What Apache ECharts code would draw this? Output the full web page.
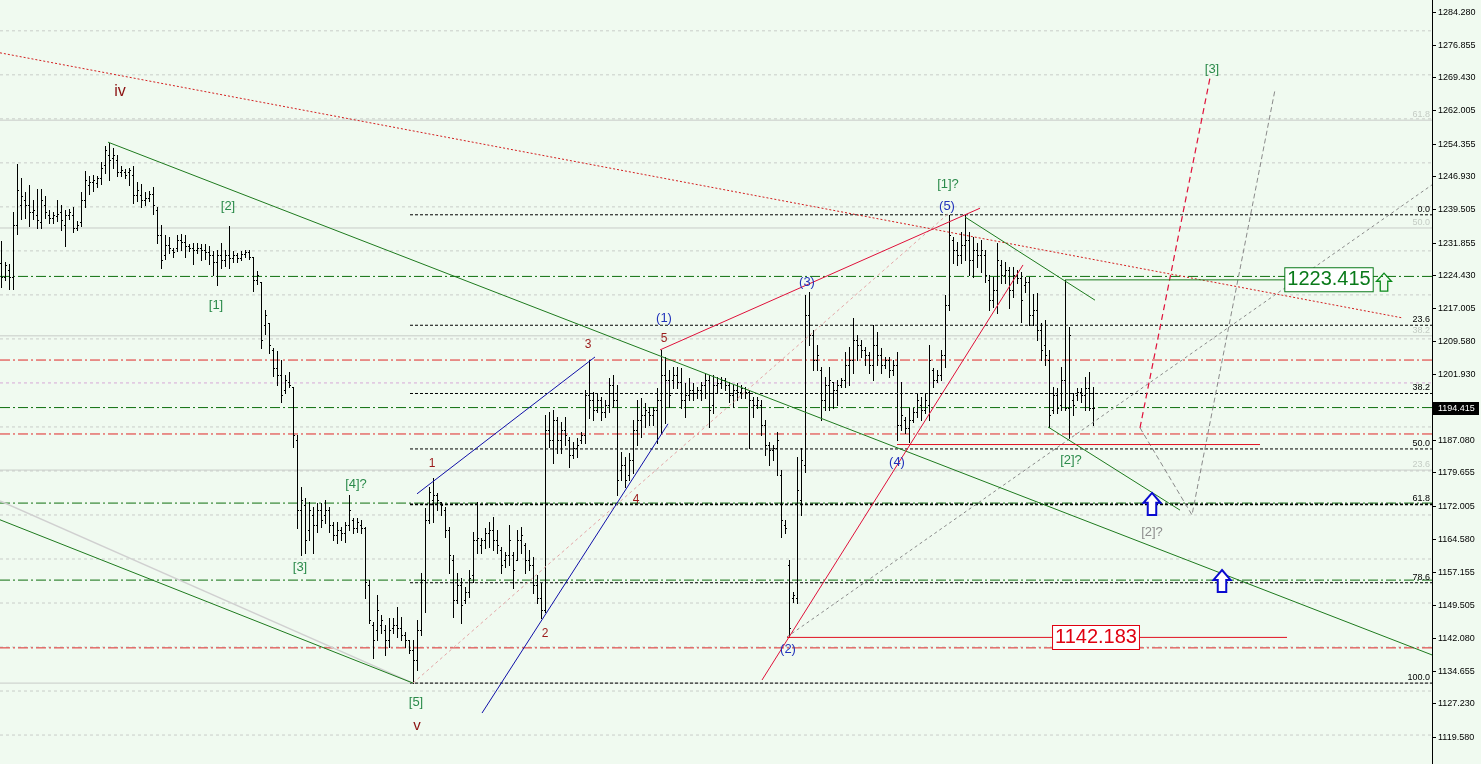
<!DOCTYPE html>
<html><head><meta charset="utf-8">
<script src="https://cdn.jsdelivr.net/npm/echarts/dist/echarts.min.js"></script>
<style>html,body{margin:0;padding:0;background:#F0FAF0;}#c{width:1481px;height:764px;}</style>
</head><body><div id="c"></div><script>
// ---------- DATA ----------
// OHLC bars: [open, high, low, close]
const bars = [
[1227.2,1232.3,1221.8,1224.1],[1224.1,1227.4,1223.4,1226.8],[1225.7,1227.0,1221.4,1224.1],[1224.1,1238.8,1221.4,1235.9],
[1235.9,1249.7,1233.8,1243.8],[1240.5,1246.6,1237.3,1242.4],[1241.6,1243.3,1237.5,1240.5],[1240.5,1245.0,1235.6,1238.8],
[1238.8,1241.6,1237.3,1239.3],[1238.2,1244.1,1235.2,1237.0],[1236.5,1244.1,1235.2,1241.6],[1240.5,1242.4,1237.5,1238.8],
[1238.2,1239.3,1236.3,1237.5],[1237.5,1238.8,1236.3,1238.2],[1237.9,1241.6,1236.8,1238.4],[1238.8,1240.5,1234.7,1237.0],
[1235.9,1239.3,1231.1,1238.2],[1238.2,1239.6,1237.3,1238.8],[1238.2,1240.0,1234.2,1235.2],[1235.2,1236.8,1234.7,1235.9],
[1236.5,1243.3,1235.6,1241.6],[1241.6,1248.2,1240.0,1246.1],[1245.0,1247.0,1242.9,1245.6],[1245.6,1247.3,1243.6,1246.1],
[1245.4,1247.0,1244.5,1246.6],[1246.6,1250.1,1245.2,1248.8],[1249.5,1253.8,1247.7,1252.9],[1251.8,1254.5,1246.1,1250.6],
[1251.1,1253.4,1248.8,1251.8],[1250.6,1251.8,1247.0,1247.9],[1247.9,1249.2,1247.0,1248.4],[1247.9,1248.6,1246.6,1247.3],
[1247.9,1248.8,1245.0,1248.4],[1247.3,1249.2,1240.9,1242.7],[1242.7,1245.6,1241.4,1243.8],[1242.7,1245.2,1240.0,1241.6],
[1241.6,1243.3,1240.5,1242.0],[1242.0,1243.6,1241.4,1242.9],[1242.9,1244.5,1238.4,1240.5],[1239.3,1240.0,1231.8,1233.6],
[1233.6,1235.9,1226.1,1227.9],[1229.1,1233.6,1228.2,1231.4],[1231.4,1233.1,1229.5,1230.7],[1230.2,1230.7,1228.6,1229.7],
[1230.7,1233.6,1230.0,1232.5],[1232.5,1233.8,1230.2,1232.0],[1232.0,1233.6,1228.6,1231.1],[1231.1,1231.6,1230.0,1230.7],
[1230.7,1231.8,1227.0,1230.2],[1230.2,1231.8,1229.5,1230.7],[1230.7,1231.6,1227.9,1230.2],[1230.2,1231.6,1228.2,1229.7],
[1229.7,1231.1,1227.0,1229.1],[1229.1,1230.0,1224.6,1227.4],[1227.4,1230.2,1222.3,1229.1],[1229.1,1231.8,1226.1,1227.9],
[1227.9,1230.2,1226.5,1229.1],[1229.1,1235.6,1226.1,1228.4],[1228.4,1230.0,1227.4,1229.1],[1229.1,1229.5,1227.4,1228.4],
[1228.4,1230.0,1227.9,1229.3],[1229.3,1230.2,1228.6,1229.7],[1229.7,1230.2,1228.2,1228.6],[1228.6,1228.6,1220.9,1223.4],
[1223.4,1225.5,1222.5,1224.6],[1222.9,1222.9,1208.0,1209.8],[1213.2,1216.6,1211.1,1215.5],[1213.6,1213.6,1206.8,1208.7],
[1207.5,1208.0,1201.5,1203.4],[1203.4,1207.3,1199.6,1201.8],[1201.8,1205.2,1195.6,1197.3],[1198.4,1201.8,1197.7,1200.7],
[1200.2,1202.4,1199.1,1199.6],[1199.1,1199.1,1185.4,1188.2],[1187.0,1188.2,1167.1,1171.1],[1171.1,1176.3,1160.9,1173.4],
[1172.3,1173.9,1161.3,1164.3],[1166.6,1172.9,1164.3,1171.1],[1170.0,1171.8,1161.3,1167.8],[1167.8,1172.7,1166.1,1171.1],
[1171.1,1172.7,1167.3,1168.9],[1170.0,1173.4,1168.2,1171.1],[1171.1,1171.8,1166.1,1167.8],[1167.8,1168.4,1164.3,1165.5],
[1165.5,1168.4,1163.6,1166.6],[1166.6,1167.3,1164.3,1165.9],[1165.9,1168.4,1163.8,1167.8],[1167.8,1174.6,1166.6,1171.1],
[1168.9,1169.3,1165.9,1167.1],[1167.1,1169.3,1166.1,1168.4],[1167.8,1168.9,1165.9,1167.1],[1167.1,1167.3,1151.1,1154.7],
[1154.1,1155.2,1145.4,1146.1],[1145.0,1145.6,1137.5,1141.6],[1143.9,1151.8,1141.6,1148.4],[1145.0,1147.3,1143.2,1146.1],
[1143.9,1145.0,1138.2,1141.6],[1141.6,1146.6,1140.0,1143.9],[1144.3,1146.6,1143.2,1145.0],[1145.0,1149.1,1142.3,1144.3],
[1144.3,1146.8,1141.6,1142.8],[1142.8,1143.4,1140.0,1141.6],[1141.6,1141.6,1138.6,1139.3],[1139.3,1141.6,1131.8,1137.0],
[1137.0,1146.1,1134.8,1143.9],[1143.9,1156.8,1142.8,1155.2],[1155.2,1171.6,1147.9,1168.9],[1168.9,1176.3,1168.2,1175.2],
[1173.4,1178.4,1168.4,1174.6],[1174.6,1175.0,1171.1,1173.4],[1172.9,1172.9,1170.0,1172.3],[1171.1,1171.8,1165.0,1166.6],
[1166.6,1167.3,1156.8,1160.9],[1159.8,1160.9,1146.8,1150.7],[1150.7,1156.8,1150.0,1154.1],[1154.1,1155.7,1145.4,1149.6],
[1150.7,1153.6,1150.0,1152.4],[1152.4,1157.5,1151.3,1155.7],[1156.4,1166.1,1154.7,1164.3],[1164.3,1172.9,1161.3,1164.8],
[1163.2,1164.8,1161.3,1164.3],[1164.3,1167.1,1162.5,1165.9],[1165.9,1168.4,1162.7,1166.6],[1166.6,1169.5,1162.0,1164.3],
[1164.3,1166.6,1161.3,1163.2],[1162.0,1162.7,1156.8,1158.7],[1159.8,1161.6,1158.2,1160.9],[1160.9,1167.8,1158.7,1164.3],
[1160.9,1161.6,1153.4,1157.5],[1159.8,1166.6,1159.8,1164.3],[1164.3,1167.3,1161.3,1165.5],[1163.2,1163.6,1156.8,1159.8],
[1159.8,1162.0,1157.5,1158.7],[1158.7,1160.4,1152.2,1154.1],[1154.1,1156.4,1150.0,1151.1],[1151.1,1154.5,1146.6,1148.4],
[1148.4,1192.7,1147.9,1189.3],[1189.3,1193.3,1185.4,1187.0],[1187.0,1193.8,1181.8,1191.6],[1191.6,1192.2,1184.1,1187.0],
[1187.0,1191.1,1184.1,1189.3],[1189.3,1192.2,1185.9,1188.2],[1187.0,1187.7,1180.9,1183.7],[1183.7,1186.5,1183.0,1185.2],
[1185.2,1187.5,1183.2,1185.9],[1187.0,1188.8,1186.3,1188.2],[1188.2,1198.4,1186.3,1197.3],[1197.3,1205.2,1192.0,1196.1],
[1196.1,1197.9,1191.6,1193.8],[1193.8,1197.7,1193.3,1196.1],[1196.1,1196.8,1191.6,1193.3],[1193.3,1196.1,1192.2,1195.0],
[1195.0,1201.1,1193.3,1199.6],[1199.6,1201.8,1194.5,1196.1],[1196.1,1199.6,1174.6,1177.9],[1180.2,1184.3,1177.9,1181.4],
[1181.4,1183.2,1176.3,1177.9],[1179.1,1184.1,1177.9,1182.5],[1182.5,1191.6,1179.5,1189.3],[1189.3,1196.1,1185.9,1191.6],
[1191.6,1196.6,1187.7,1192.7],[1192.7,1195.5,1190.0,1193.8],[1193.3,1194.5,1190.5,1192.7],[1192.7,1194.5,1190.5,1193.8],
[1193.8,1198.8,1186.3,1196.1],[1196.1,1207.5,1188.6,1201.8],[1201.8,1205.9,1190.9,1200.7],[1200.7,1202.9,1194.5,1197.3],
[1200.7,1203.6,1198.8,1201.8],[1201.8,1203.6,1198.8,1200.2],[1200.2,1203.4,1194.3,1196.1],[1196.1,1200.0,1192.2,1197.3],
[1197.3,1201.1,1196.1,1198.4],[1198.4,1200.0,1196.1,1197.7],[1197.7,1199.1,1196.6,1198.4],[1198.4,1200.2,1196.1,1199.6],
[1199.6,1202.2,1196.6,1200.7],[1200.7,1201.8,1190.0,1193.8],[1195.0,1201.8,1193.1,1199.6],[1199.6,1201.3,1197.9,1200.0],
[1200.0,1201.3,1198.8,1200.7],[1200.7,1201.1,1198.4,1199.6],[1199.6,1200.2,1195.6,1197.3],[1197.3,1199.6,1194.5,1198.4],
[1198.4,1200.0,1196.1,1197.9],[1197.9,1199.6,1196.6,1198.8],[1198.8,1199.1,1196.6,1197.9],[1197.9,1198.4,1185.2,1196.1],
[1196.1,1196.8,1192.2,1195.0],[1195.0,1196.8,1194.3,1196.1],[1195.0,1196.1,1188.2,1190.5],[1190.5,1191.6,1183.7,1185.9],
[1185.9,1186.5,1181.4,1184.8],[1184.8,1185.9,1182.5,1185.2],[1185.2,1188.8,1179.1,1187.0],[1179.1,1180.2,1165.0,1168.9],
[1167.8,1168.9,1165.9,1167.1],[1158.7,1159.8,1142.2,1144.3],[1151.1,1152.4,1150.2,1151.8],[1151.1,1183.2,1150.0,1175.7],
[1173.4,1185.2,1170.0,1182.5],[1181.4,1220.0,1179.7,1215.5],[1215.5,1220.6,1208.7,1210.9],[1210.9,1212.0,1202.9,1205.2],
[1205.2,1208.7,1202.9,1206.4],[1202.9,1203.6,1191.6,1196.1],[1196.1,1201.3,1193.8,1199.6],[1199.6,1203.6,1193.8,1200.7],
[1200.2,1200.2,1194.3,1198.4],[1198.4,1200.7,1195.0,1199.6],[1199.6,1201.1,1199.1,1200.7],[1200.7,1207.0,1199.1,1204.1],
[1204.1,1208.2,1199.6,1205.2],[1205.2,1214.8,1202.2,1209.8],[1209.8,1210.9,1205.2,1208.7],[1208.7,1209.8,1205.9,1207.5],
[1207.5,1208.2,1204.1,1206.4],[1206.4,1207.0,1202.2,1204.1],[1204.1,1213.2,1200.7,1208.7],[1208.7,1211.6,1204.1,1206.4],
[1206.4,1208.0,1202.2,1204.1],[1204.1,1205.9,1203.4,1205.2],[1205.2,1205.9,1201.3,1202.9],[1202.9,1205.2,1201.8,1204.1],
[1204.1,1207.0,1187.0,1190.5],[1190.5,1200.2,1189.3,1192.7],[1191.6,1192.2,1188.6,1189.8],[1189.8,1194.3,1186.5,1191.6],
[1191.6,1194.3,1191.1,1193.3],[1193.3,1197.7,1192.2,1196.1],[1195.0,1196.8,1191.6,1193.8],[1193.8,1197.7,1193.1,1196.1],
[1195.0,1208.7,1191.6,1205.2],[1202.9,1203.4,1199.1,1200.7],[1200.7,1202.9,1200.2,1201.8],[1201.8,1207.5,1200.7,1206.4],
[1206.4,1220.0,1203.6,1217.7],[1217.7,1238.2,1216.6,1233.6],[1232.5,1233.1,1227.2,1230.2],[1230.2,1232.0,1226.8,1229.1],
[1229.1,1234.2,1227.2,1231.4],[1231.4,1238.2,1227.9,1232.5],[1232.5,1234.2,1224.6,1227.9],[1227.9,1233.1,1224.1,1230.2],
[1230.2,1231.8,1226.3,1229.1],[1229.1,1232.5,1225.2,1230.2],[1229.1,1230.2,1222.9,1224.6],[1223.4,1224.6,1216.6,1218.8],
[1218.8,1224.1,1217.2,1221.1],[1221.1,1231.8,1215.9,1227.9],[1226.8,1227.9,1222.7,1224.6],[1224.6,1227.4,1222.7,1225.7],
[1225.7,1226.3,1217.0,1221.1],[1221.1,1226.3,1219.5,1224.6],[1224.6,1225.7,1222.7,1223.9],[1223.9,1225.2,1213.8,1218.8],
[1222.3,1224.1,1220.7,1222.9],[1222.9,1224.1,1213.2,1215.5],[1215.5,1220.2,1213.2,1216.6],[1216.6,1220.4,1209.8,1212.0],
[1212.0,1213.6,1205.2,1207.5],[1208.7,1214.3,1204.1,1206.4],[1205.2,1207.5,1190.0,1192.7],[1193.8,1199.1,1193.1,1197.3],
[1197.3,1198.8,1193.1,1194.3],[1195.0,1203.6,1193.8,1200.7],[1200.7,1223.4,1193.8,1194.3],[1194.3,1212.7,1187.5,1210.9],
[1196.1,1197.7,1192.7,1195.0],[1197.3,1198.8,1196.1,1197.9],[1197.9,1198.8,1195.6,1197.3],[1197.3,1201.3,1193.8,1198.8],
[1198.8,1202.4,1193.8,1194.3],[1194.3,1199.1,1190.5,1194.415]
];
const priceTicks = [1284.280,1276.855,1269.430,1262.005,1254.355,1246.930,1239.505,1231.855,1224.430,1217.005,1209.580,1201.930,
  1187.080,1179.655,1172.005,1164.580,1157.155,1149.505,1142.080,1134.655,1127.230,1119.580];
const currentPrice = 1194.415;
const gridLevels = [1120,1130,1140,1150,1160,1170,1180,1190,1210,1220,1230,1240,1250,1260,1270,1280];
const pinkLevels = [1200];
const greenLevels = [1224.2,1194.4,1172.7,1155.2];
const redLevels = [1205.2,1188.4,1139.8];
const faintFibo = [[1259.7,'61.8'],[1235.2,'50.0'],[1210.7,'38.2'],[1180.2,'23.6'],[1131.8,'']];
const fiboLevels = [[1238.2,'0.0'],[1213.1,'23.6'],[1197.6,'38.2'],[1185.0,'50.0'],[1172.4,'61.8'],[1154.6,'78.6'],[1131.8,'100.0']];
const fiboStart = 102.25;
const target1 = 1223.415, target2 = 1142.183;

// trend lines in [barIndex, price]
const redDotted   = [[-0.25,1275.0],[350.5,1214.75]];
const greenUpper  = [[26.75,1254.7],[357.75,1138.2]];
const greenLower  = [[-0.25,1168.9],[103,1131.8]];
const grayFaint   = [[-0.25,1173.2],[103,1131.8]];
const wedgeTop    = [[241,1237.7],[273.5,1218.8]];
const wedgeBot    = [[261.75,1190.0],[294.75,1171.1]];
const blueUpper   = [[104,1174.8],[148.5,1205.9]];
const blueLower   = [[120.25,1125.0],[166.75,1190.7]];
const redUpper    = [[164.75,1207.5],[244.75,1239.7]];
const redLower    = [[190.25,1132.5],[255.5,1226.8]];
const redProj     = [[284.75,1189.8],[302.25,1269.3]];
const pinkDiag    = [[103,1131.8],[237.25,1238.8]];
const grayDiag    = [[196.5,1142.3],[357.75,1245.0]];
const grayProj    = [[284.75,1189.8],[297.75,1170.0],[318.5,1266.6]];
const target1Line = [[266,target1],[321.75,target1]];
const target2Line = [[196.5,target2],[321.5,target2]];
const red4Line    = [[224,1186.0],[314.75,1186.0]];

const waveLabels = [
 ['iv',29.75,1266.1,'dred',16],['v',104,1122.0,'dred',15],
 ['[2]',56.75,1240.2,'green',13],['[1]',53.75,1217.5,'green',13],['[3]',74.75,1158.0,'green',13],
 ['[4]?',88.75,1177.0,'green',13],['[5]',103.75,1127.3,'green',13],['[1]?',236.75,1245.2,'green',13],
 ['[2]?',267.5,1182.5,'green',13],['[3]',302.75,1271.3,'green',13],['[2]?',287.75,1166.1,'gray',13],
 ['1',107.75,1181.6,'red',12],['2',136,1143.0,'red',12],['3',146.75,1208.6,'red',12],['4',158.75,1173.4,'red',12],['5',165.75,1210.0,'red',12],
 ['(1)',165.75,1214.75,'blue',13],['(2)',196.75,1139.5,'blue',13],['(3)',201.5,1222.9,'blue',13],['(4)',224,1182.0,'blue',13],['(5)',236.5,1240.0,'blue',13]
];
const blueArrows = [[287.75,1172.5],[305.25,1155.0]];
const greenArrow = [345.75,1222.9];

// ---------- CHART ----------
const X_MIN=-0.25, X_MAX=357.75;
const COLORS = {dred:'#8b1010', green:'#2a8a4a', gray:'#8c8c8c', red:'#9a1a1a', blue:'#2233bb'};
const FONT = '"Liberation Sans", Arial, sans-serif';
const series = [];
function seg(pts, color, width, type, z){
  series.push({type:'line', data:pts, showSymbol:false, symbol:'none', silent:true, animation:false,
    lineStyle:{color:color, width:width, type:type}, z:z||2});
}
const full = p => [[X_MIN,p],[X_MAX,p]];
gridLevels.forEach(p=>seg(full(p),'#c9cdc9',1,[3,3],1));
pinkLevels.forEach(p=>seg(full(p),'#d8a8d8',1,[3,3],1));
faintFibo.forEach(f=>seg(full(f[0]),'#c8ccc8',1,'solid',1));
greenLevels.forEach(p=>seg(full(p),'#0e6e0e',1,[10,3,2,3],2));
redLevels.forEach(p=>seg(full(p),'#e02828',1,[10,3,2,3],2));
fiboLevels.forEach(f=>seg([[fiboStart,f[0]],[X_MAX,f[0]]],'#000000',f[1]==='61.8'?1.6:1,[3,2],2));

// OHLC bars
series.push({type:'custom', z:3, silent:true, animation:false,
  data: bars.map((b,i)=>[i,b[0],b[1],b[2],b[3]]),
  encode:{x:0,y:[1,2,3,4]},
  renderItem:function(params, api){
    const i=api.value(0);
    const o=api.coord([i,api.value(1)]), h=api.coord([i,api.value(2)]), l=api.coord([i,api.value(3)]), c=api.coord([i,api.value(4)]);
    const x=Math.round(o[0]);
    const st={fill:'#000'};
    const yh=Math.round(h[1]), yl=Math.round(l[1]);
    return {type:'group', children:[
      {type:'rect', shape:{x:x, y:yh, width:1, height:Math.max(1,yl-yh+1)}, style:st},
      {type:'rect', shape:{x:x-1, y:Math.round(o[1]), width:1, height:1}, style:st},
      {type:'rect', shape:{x:x+1, y:Math.round(c[1]), width:1, height:1}, style:st}
    ]};
  }
});

// trend lines
seg(redDotted,'#d42020',1,[2,2],4);
seg(greenUpper,'#1e7a1e',1,'solid',4);
seg(greenLower,'#1e7a1e',1,'solid',4);
seg(grayFaint,'#d0d0d0',1.5,'solid',3);
seg(wedgeTop,'#1e7a1e',1,'solid',4);
seg(wedgeBot,'#1e7a1e',1,'solid',4);
seg(blueUpper,'#1010a8',1,'solid',4);
seg(blueLower,'#1010a8',1,'solid',4);
seg(redUpper,'#e0103a',1,'solid',4);
seg(redLower,'#e0103a',1,'solid',4);
seg(redProj,'#e0103a',1.2,[6,4],4);
seg(pinkDiag,'#e3a6a6',1,[3,3],3);
seg(grayDiag,'#8a8a8a',1,[3,3],3);
seg(grayProj,'#8a8a8a',1,[5,3],3);
seg(target1Line,'#1e7a1e',1,'solid',4);
seg(target2Line,'#e01020',1,'solid',4);
seg(red4Line,'#e01020',1,'solid',4);

// wave labels
series.push({type:'custom', z:6, silent:true, animation:false, clip:false,
  data: waveLabels.map((w,k)=>[w[1],w[2],k]),
  renderItem:function(params, api){
    const w=waveLabels[api.value(2)];
    const c=api.coord([api.value(0),api.value(1)]);
    return {type:'text', x:c[0], y:c[1], style:{text:w[0], fill:COLORS[w[3]], font:w[4]+'px '+FONT, align:'center', verticalAlign:'middle'}};
  }
});

// fibo labels (right end)
series.push({type:'custom', z:6, silent:true, animation:false, clip:false,
  data: fiboLevels.map((f,k)=>[X_MAX,f[0],k]),
  renderItem:function(params, api){
    const f=fiboLevels[api.value(2)];
    const c=api.coord([api.value(0),api.value(1)]);
    return {type:'text', x:c[0]-2, y:c[1]-1, style:{text:f[1], fill:'#000', font:'9px '+FONT, align:'right', verticalAlign:'bottom'}};
  }
});
series.push({type:'custom', z:6, silent:true, animation:false, clip:false,
  data: faintFibo.map((f,k)=>[X_MAX,f[0],k]),
  renderItem:function(params, api){
    const f=faintFibo[api.value(2)];
    const c=api.coord([api.value(0),api.value(1)]);
    return {type:'text', x:c[0]-2, y:c[1]-1, style:{text:f[1], fill:'#c4ccc4', font:'9px '+FONT, align:'right', verticalAlign:'bottom'}};
  }
});

// target boxes
series.push({type:'custom', z:7, silent:true, animation:false, clip:false,
  data: [[332,target1,0],[273.75,target2,1]],
  renderItem:function(params, api){
    const k=api.value(2);
    const c=api.coord([api.value(0),api.value(1)]);
    const col = k===0?'#0a7a1a':'#e00010';
    const txt = k===0?target1.toFixed(3):target2.toFixed(3);
    return {type:'text', x:c[0], y:c[1], style:{text:txt, fill:col, font:'20px '+FONT, align:'center', verticalAlign:'middle',
      backgroundColor:'#ffffff', borderColor:col, borderWidth:1, padding:[2,2,1,2]}};
  }
});

// arrows
function arrowPts(cx, cy, w, h){
  const hw=w/2, sw=w/4, top=cy-h/2, bot=cy+h/2, mid=cy-h/2+h*0.45;
  return [[cx,top],[cx+hw,mid],[cx+sw,mid],[cx+sw,bot],[cx-sw,bot],[cx-sw,mid],[cx-hw,mid]];
}
series.push({type:'custom', z:7, silent:true, animation:false, clip:false,
  data: blueArrows.map(a=>[a[0],a[1],0]).concat([[greenArrow[0],greenArrow[1],1]]),
  renderItem:function(params, api){
    const k=api.value(2);
    const c=api.coord([api.value(0),api.value(1)]);
    if(k===0) return {type:'polygon', shape:{points:arrowPts(c[0],c[1],17,22)}, style:{fill:'#ffffff', stroke:'#0a0ad0', lineWidth:2}};
    return {type:'polygon', shape:{points:arrowPts(c[0],c[1],15,18)}, style:{fill:'none', stroke:'#0a8a1a', lineWidth:1.3}};
  }
});

// right axis labels
series.push({type:'custom', z:8, silent:true, animation:false, clip:false,
  data: priceTicks.map(v=>[X_MAX,v]),
  renderItem:function(params, api){
    const v=api.value(1);
    const c=api.coord([X_MAX,v]);
    const y=Math.round(c[1])+0.5;
    return {type:'group', children:[
      {type:'line', shape:{x1:c[0],y1:y,x2:c[0]+4,y2:y}, style:{stroke:'#000', lineWidth:1}},
      {type:'text', x:c[0]+6, y:y, style:{text:v.toFixed(3), fill:'#000', font:'9px '+FONT, align:'left', verticalAlign:'middle'}}
    ]};
  }
});
// current price box
series.push({type:'custom', z:9, silent:true, animation:false, clip:false,
  data: [[X_MAX,currentPrice]],
  renderItem:function(params, api){
    const c=api.coord([X_MAX,api.value(1)]);
    const y=Math.round(c[1]);
    return {type:'group', children:[
      {type:'rect', shape:{x:c[0]+1, y:y-6, width:46, height:13}, style:{fill:'#000'}},
      {type:'text', x:c[0]+6, y:y+0.5, style:{text:currentPrice.toFixed(3), fill:'#fff', font:'9px '+FONT, align:'left', verticalAlign:'middle'}}
    ]};
  }
});

const chart = echarts.init(document.getElementById('c'));
chart.setOption({
  backgroundColor:'#F0FAF0',
  animation:false,
  grid:{left:0, right:49, top:0, bottom:0},
  xAxis:{type:'value', min:X_MIN, max:X_MAX, show:false},
  yAxis:{type:'value', min:1113.42, max:1287.0, position:'right',
    axisLine:{show:true, onZero:false, lineStyle:{color:'#000', width:1}}, axisTick:{show:false}, axisLabel:{show:false}, splitLine:{show:false}},
  series:series
});
</script></body></html>
